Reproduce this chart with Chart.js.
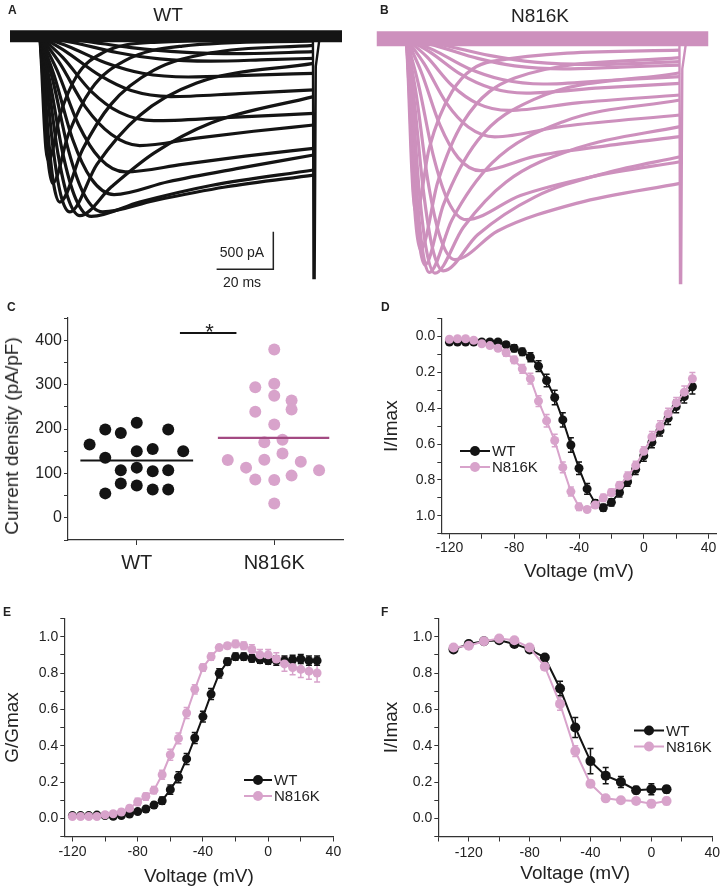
<!DOCTYPE html>
<html>
<head>
<meta charset="utf-8">
<script src="https://cdn.jsdelivr.net/npm/chart.js@4.4.1/dist/chart.umd.min.js"></script>
<style>
  body { margin: 0; background: #fff; width: 723px; height: 889px; position: relative; overflow: hidden;
         font-family: Arial, "Liberation Sans", Helvetica, sans-serif; color: #222; }
  canvas { position: absolute; }
  .t { position: absolute; white-space: nowrap; transform: translate(-50%, -50%); }
  .lt { position: absolute; font-weight: bold; font-size: 12px; }
</style>
</head>
<body>
<canvas id="panelA" width="360" height="290" style="left:0;top:0"></canvas>
<canvas id="panelB" width="363" height="290" style="left:360px;top:0"></canvas>
<canvas id="panelC" width="360" height="310" style="left:0;top:290px"></canvas>
<canvas id="panelD" width="363" height="310" style="left:360px;top:290px"></canvas>
<canvas id="panelE" width="360" height="289" style="left:0;top:600px"></canvas>
<canvas id="panelF" width="363" height="289" style="left:360px;top:600px"></canvas>

<div class="lt" style="left:8px;top:3px">A</div>
<div class="lt" style="left:380px;top:3px">B</div>
<div class="lt" style="left:7px;top:300px">C</div>
<div class="lt" style="left:381px;top:300px">D</div>
<div class="lt" style="left:3px;top:605px">E</div>
<div class="lt" style="left:381px;top:605px">F</div>
<div class="t" style="left:168px;top:15px;font-size:19px">WT</div>
<div class="t" style="left:540px;top:16px;font-size:19px">N816K</div>
<div class="t" style="left:242px;top:252px;font-size:14px">500 pA</div>
<div class="t" style="left:242px;top:282px;font-size:14px">20 ms</div>
<div class="t" style="left:12px;top:436px;font-size:19px;transform:translate(-50%,-50%) rotate(-90deg)">Current density (pA/pF)</div>

<script>
// ---- A / B: current sweeps, [time ms, current pA]
const wtSweeps = [
    [[0,0],[15,-60],[32,-150],[50,-210],[70,-230],[96,-204]],
    [[0,0],[12,-85],[27,-215],[42,-300],[60,-330],[80,-310],[96,-292]],
    [[0,0],[10,-135],[23,-350],[36,-490],[52,-540],[75,-515],[96,-491]],
    [[0,0],[9,-200],[21,-520],[32,-720],[46,-800],[70,-760],[96,-712]],
    [[0,0],[8,-280],[18,-730],[28,-1010],[40,-1120],[65,-1080],[96,-1022]],
    [[0,0],[7,-360],[16,-940],[25,-1300],[35,-1450],[55,-1350],[75,-1260],[96,-1177]],
    [[0,0],[6,-450],[13.5,-1170],[21,-1620],[30,-1800],[50,-1700],[72,-1590],[96,-1487]],
    [[0,0],[5,-520],[11.5,-1370],[18,-1890],[26,-2100],[45,-1930],[70,-1750],[96,-1575]],
    [[0,0],[4.5,-580],[10,-1510],[15.5,-2100],[22,-2330],[40,-2180],[65,-2000],[96,-1841]],
    [[0,0],[3.5,-600],[8,-1550],[12.5,-2150],[18,-2390],[35,-2200],[60,-1980],[96,-1774]],
    [[0,0],[2.8,-600],[6.3,-1550],[9.8,-2140],[14,-2380],[25,-2000],[40,-1550],[60,-1150],[96,-801]],
    [[0,0],[2.1,-580],[4.7,-1510],[7.3,-2100],[10.5,-2330],[20,-1700],[35,-1050],[55,-620],[96,-359]],
    [[0,0],[1.4,-550],[3.2,-1430],[4.9,-1980],[7,-2200],[15,-1500],[25,-900],[40,-450],[60,-220],[96,-120]],
    [[0,0],[0.9,-490],[2,-1270],[3.2,-1750],[4.5,-1950],[10,-1300],[18,-700],[30,-320],[50,-130],[96,-60]],
    [[0,0],[0.6,-410],[1.4,-1070],[2.1,-1490],[3,-1650],[7,-1050],[13,-520],[22,-220],[40,-80],[96,-40]]
];
const mutSweeps = [
    [[0,0],[13,-85],[29,-220],[45,-310],[65,-340],[96,-304]],
    [[0,0],[11,-100],[25,-260],[38,-360],[55,-400],[75,-375],[96,-348]],
    [[0,0],[9.6,-150],[21.6,-390],[33.6,-540],[48,-600],[72,-550],[96,-503]],
    [[0,0],[8.4,-180],[19,-470],[29.4,-650],[42,-720],[68,-650],[96,-591]],
    [[0,0],[7.2,-240],[16,-620],[25,-860],[36,-950],[60,-850],[96,-746]],
    [[0,0],[6.2,-330],[14,-850],[21.7,-1170],[31,-1300],[55,-1160],[96,-1011]],
    [[0,0],[5.2,-440],[11.7,-1140],[18.2,-1580],[26,-1750],[45,-1560],[70,-1420],[96,-1298]],
    [[0,0],[4.2,-600],[9.5,-1560],[14.7,-2160],[21,-2400],[40,-2080],[65,-1830],[96,-1631]],
    [[0,0],[3.4,-730],[7.6,-1900],[11.9,-2640],[17,-2930],[32,-2550],[60,-2180],[96,-1918]],
    [[0,0],[2.6,-770],[5.9,-2000],[9.1,-2770],[13,-3080],[25,-2600],[45,-2100],[70,-1780],[96,-1565]],
    [[0,0],[2,-780],[4.5,-2020],[7,-2800],[10,-3110],[20,-2500],[35,-1900],[60,-1450],[96,-1165]],
    [[0,0],[1.6,-775],[3.6,-2015],[5.6,-2790],[8,-3100],[16,-2400],[30,-1650],[55,-1100],[96,-812]],
    [[0,0],[1.3,-750],[2.9,-1950],[4.5,-2700],[6.5,-3000],[13,-2200],[25,-1350],[45,-800],[96,-450]],
    [[0,0],[1,-700],[2.2,-1820],[3.5,-2520],[5,-2800],[11,-1900],[20,-1100],[38,-520],[96,-250]],
    [[0,0],[0.7,-575],[1.6,-1500],[2.4,-2070],[3.5,-2300],[8,-1450],[16,-700],[30,-300],[96,-150]]
];
const wtTail = [[95.8,0],[96,-3207],[96.4,-3207],[96.8,-400],[98,-60],[100,0]];
const mutTail = [[95.8,0],[96,-3240],[96.4,-3240],[96.8,-400],[98,-80],[100,0]];
const sweepBaseline = [[-10.5,0],[106,0]];
const scaleBar = [[62,-3092],[81.9,-3092],[81.9,-2593]];

// ---- C: current density (pA/pF), jitter around the group position
const groups = ['WT', 'N816K'];
const wtJitter = [-0.343,-0.229,-0.116,0,0.229,-0.229,0,0.116,0.338,-0.116,0,0.116,0.229,-0.116,0,0.116,0.229,-0.229];
const wtDensity = [165,199,191,214,199,135,150,155,150,107,113,105,107,77,73,64,64,55];
const mutJitter = [0,-0.138,0,0,0.126,0.126,-0.138,0,-0.072,0.06,0.06,-0.338,-0.072,-0.205,0.193,0.326,-0.138,0,0.126,0];
const mutDensity = [379,294,302,275,264,244,239,210,170,176,145,130,131,113,126,107,86,85,95,32];
const wtMean = 129;
const mutMean = 180;
const sigLevel = 416;

// ---- D: normalised I-V
const ivVoltage = [-120,-115,-110,-105,-100,-95,-90,-85,-80,-75,-70,-65,-60,-55,-50,-45,-40,-35,-30,-25,-20,-15,-10,-5,0,5,10,15,20,25,30];
const ivWT = [0.03,0.03,0.03,0.03,0.03,0.03,0.03,0.045,0.065,0.085,0.115,0.165,0.245,0.34,0.465,0.605,0.735,0.85,0.93,0.955,0.925,0.87,0.81,0.74,0.665,0.59,0.525,0.455,0.39,0.335,0.28];
const ivWTErr = [0.01,0.01,0.01,0.01,0.01,0.01,0.01,0.015,0.02,0.02,0.025,0.03,0.035,0.04,0.04,0.04,0.035,0.03,0.02,0.02,0.02,0.025,0.025,0.03,0.03,0.03,0.03,0.035,0.035,0.035,0.04];
const ivMut = [0.015,0.012,0.012,0.02,0.04,0.05,0.065,0.09,0.13,0.18,0.235,0.36,0.47,0.58,0.73,0.865,0.95,0.965,0.94,0.9,0.87,0.83,0.78,0.72,0.64,0.56,0.5,0.43,0.37,0.31,0.235];
const ivMutErr = [0.01,0.01,0.01,0.01,0.01,0.01,0.015,0.02,0.02,0.025,0.03,0.03,0.035,0.035,0.03,0.025,0.02,0.015,0.015,0.02,0.02,0.02,0.025,0.025,0.025,0.03,0.03,0.03,0.03,0.035,0.035];

// ---- E: activation G/Gmax
const actVoltage = ivVoltage;
const actWT = [0.015,0.015,0.015,0.018,0.015,0.011,0.015,0.024,0.037,0.051,0.073,0.097,0.158,0.226,0.327,0.442,0.56,0.684,0.798,0.862,0.89,0.89,0.88,0.873,0.868,0.868,0.868,0.873,0.877,0.868,0.868];
const actWTErr = [0.01,0.01,0.01,0.01,0.01,0.01,0.01,0.01,0.01,0.015,0.015,0.02,0.025,0.03,0.03,0.03,0.03,0.03,0.025,0.02,0.02,0.02,0.02,0.02,0.02,0.025,0.025,0.025,0.025,0.025,0.025];
const actMut = [0.01,0.01,0.01,0.01,0.02,0.025,0.035,0.055,0.09,0.12,0.155,0.24,0.35,0.44,0.58,0.71,0.83,0.89,0.94,0.95,0.96,0.95,0.93,0.9,0.9,0.877,0.85,0.83,0.82,0.81,0.8];
const actMutErr = [0.01,0.01,0.01,0.01,0.01,0.01,0.015,0.015,0.02,0.02,0.02,0.025,0.03,0.03,0.03,0.025,0.02,0.02,0.015,0.015,0.02,0.02,0.025,0.03,0.03,0.035,0.04,0.04,0.045,0.045,0.05];

// ---- F: steady-state inactivation
const inactVoltage = [-130,-120,-110,-100,-90,-80,-70,-60,-50,-40,-30,-20,-10,0,10];
const inactWT = [0.93,0.96,0.975,0.98,0.96,0.93,0.885,0.715,0.5,0.315,0.235,0.2,0.155,0.16,0.16];
const inactWTErr = [0.01,0.01,0.01,0.01,0.01,0.01,0.015,0.04,0.055,0.07,0.045,0.03,0.02,0.03,0.02];
const inactMut = [0.94,0.95,0.975,0.99,0.98,0.94,0.835,0.63,0.37,0.19,0.11,0.1,0.095,0.08,0.095];
const inactMutErr = [0.01,0.01,0.01,0.01,0.01,0.01,0.02,0.035,0.03,0.02,0.015,0.01,0.01,0.02,0.02];

const voltTicks = [-140,-120,-100,-80,-60,-40,-20,0,20,40];
const fracTicks = [-0.1,0,0.1,0.2,0.3,0.4,0.5,0.6,0.7,0.8,0.9,1,1.1];
const densityTicks = [-50,0,50,100,150,200,250,300,350,400,450];

const BLACK = '#141414';
const TRACE_PINK = '#cd90bd';
const DOT_PINK = '#d8a3cb';
const MEAN_PURPLE = '#a34a82';
const AXIS = '#333';

Chart.defaults.font.family = 'Arial, "Liberation Sans", Helvetica, sans-serif';
Chart.defaults.color = '#222';
Chart.defaults.animation = false;
Chart.defaults.plugins.legend.display = false;
Chart.defaults.plugins.tooltip.enabled = false;

const toXY = pairs => pairs.map(p => ({ x: p[0], y: p[1] }));
const zipXY = (xs, ys) => xs.map((x, i) => ({ x: x, y: ys[i] }));

function renderSweeps(id, sweeps, tail, color, bandWidth, pad, extra = []) {
    const sets = [{ data: toXY(sweepBaseline), borderColor: color, borderWidth: bandWidth, tension: 0 }];
    sweeps.forEach(s => sets.push({ data: toXY(s), borderColor: color, borderWidth: 3.2, cubicInterpolationMode: 'monotone' }));
    sets.push({ data: toXY(tail), borderColor: color, borderWidth: 2.4, tension: 0 });
    extra.forEach(e => sets.push(e));
    new Chart(document.getElementById(id), {
        type: 'line',
        data: { datasets: sets },
        options: {
            responsive: false,
            layout: { padding: pad },
            elements: { point: { radius: 0 }, line: { borderCapStyle: 'butt' } },
            scales: {
                x: { type: 'linear', display: false, min: -10.5, max: 106 },
                y: { display: false, min: -3300, max: 150 }
            }
        }
    });
}

renderSweeps('panelA', wtSweeps, wtTail, BLACK, 12, { left: 10, right: 18, top: 25, bottom: 5 },
    [{ data: toXY(scaleBar), borderColor: '#222', borderWidth: 1.5, tension: 0 }]);
renderSweeps('panelB', mutSweeps, mutTail, TRACE_PINK, 15, { left: 16.5, right: 14.5, top: 27.5, bottom: 2.5 });

// error bars drawn beneath the markers
const errorBars = {
    id: 'errorBars',
    beforeDatasetsDraw(chart) {
        const { ctx, scales: { x, y } } = chart;
        chart.data.datasets.forEach(ds => {
            if (!ds.errors) return;
            ctx.save();
            ctx.strokeStyle = ds.borderColor;
            ctx.lineWidth = 1.5;
            ds.data.forEach((p, j) => {
                const e = ds.errors[j];
                const px = x.getPixelForValue(p.x);
                const y1 = y.getPixelForValue(p.y - e), y2 = y.getPixelForValue(p.y + e);
                ctx.beginPath();
                ctx.moveTo(px, y1); ctx.lineTo(px, y2);
                ctx.moveTo(px - 3, y1); ctx.lineTo(px + 3, y1);
                ctx.moveTo(px - 3, y2); ctx.lineTo(px + 3, y2);
                ctx.stroke();
            });
            ctx.restore();
        });
    }
};

function makeLegend(cfg) {
    return {
        id: 'miniLegend',
        afterDraw(chart) {
            const ctx = chart.ctx;
            ctx.save();
            cfg.items.forEach((it, k) => {
                const y = cfg.y + k * cfg.gap;
                ctx.strokeStyle = it.color;
                ctx.lineWidth = 2;
                ctx.beginPath(); ctx.moveTo(cfg.x, y); ctx.lineTo(cfg.x + cfg.len, y); ctx.stroke();
                ctx.fillStyle = it.color;
                ctx.beginPath(); ctx.arc(cfg.x + cfg.len / 2, y, 5, 0, Math.PI * 2); ctx.fill();
                ctx.fillStyle = '#222';
                ctx.font = '15px Arial, "Liberation Sans", sans-serif';
                ctx.textBaseline = 'middle';
                ctx.fillText(it.label, cfg.x + cfg.len + 2, y + 1);
            });
            ctx.restore();
        }
    };
}

function curveScales(c) {
    return {
        x: {
            type: 'linear', min: c.xMin, max: c.xMax,
            afterBuildTicks: s => { s.ticks = voltTicks.filter(v => v >= c.xMin && v <= c.xMax).map(v => ({ value: v })); },
            afterFit: s => { s.height = c.xH; },
            ticks: { autoSkip: false, maxRotation: 0, padding: c.xPad, font: { size: 14 }, color: '#222',
                     callback: v => (v % 40 === 0 ? String(v) : '') },
            grid: { drawOnChartArea: false, tickLength: 5, color: AXIS },
            border: { color: AXIS, width: 1.2 },
            title: { display: true, text: 'Voltage (mV)', font: { size: 19 }, color: '#222', padding: { top: 0, bottom: c.xTitlePad } }
        },
        y: {
            type: 'linear', min: -0.1, max: 1.1, reverse: !!c.reverse,
            afterBuildTicks: s => { s.ticks = fracTicks.map(v => ({ value: v })); },
            afterFit: s => { s.width = c.yW; },
            ticks: { autoSkip: false, padding: 2, font: { size: 14 }, color: '#222',
                     callback: v => { const r = Math.round(v * 10); return (r >= 0 && r <= 10 && r % 2 === 0) ? (r / 10).toFixed(1) : ''; } },
            grid: { drawOnChartArea: false, tickLength: 4, color: AXIS },
            border: { color: AXIS, width: 1.2 },
            title: { display: true, text: c.yTitle, font: { size: 19 }, color: '#222', padding: { top: c.yTitlePad, bottom: 0 } }
        }
    };
}

function renderCurves(id, volts, wt, wtErr, mut, mutErr, c, legend) {
    new Chart(document.getElementById(id), {
        type: 'line',
        data: {
            datasets: [
                { data: zipXY(volts, mut), errors: mutErr, borderColor: DOT_PINK, backgroundColor: DOT_PINK, borderWidth: 2,
                  pointRadius: c.r, pointBorderWidth: 0, tension: 0, order: 0 },
                { data: zipXY(volts, wt), errors: wtErr, borderColor: BLACK, backgroundColor: BLACK, borderWidth: 2,
                  pointRadius: c.r, pointBorderWidth: 0, tension: 0, order: 1 }
            ]
        },
        options: {
            responsive: false,
            layout: { padding: c.pad },
            scales: curveScales(c)
        },
        plugins: [errorBars, makeLegend(legend)]
    });
}

const legendItems = [{ label: 'WT', color: BLACK }, { label: 'N816K', color: DOT_PINK }];

renderCurves('panelD', ivVoltage, ivWT, ivWTErr, ivMut, ivMutErr,
    { xMin: -125, xMax: 45, xH: 66.3, yW: 81.3, xPad: 1, xTitlePad: 16.9, yTitlePad: 20.3, yTitle: 'I/Imax', reverse: true, r: 4.5,
      pad: { top: 28.7, right: 6.3, left: 0, bottom: 0 } },
    { x: 100, y: 161, gap: 16, len: 30, items: legendItems });

renderCurves('panelE', actVoltage, actWT, actWTErr, actMut, actMutErr,
    { xMin: -125, xMax: 40, xH: 52.5, yW: 64.3, xPad: 2, xTitlePad: 0.9, yTitlePad: 1.6, yTitle: 'G/Gmax', r: 4.5,
      pad: { top: 18.5, right: 26.6, left: 0, bottom: 0 } },
    { x: 244, y: 180, gap: 16, len: 28, items: legendItems });

renderCurves('panelF', inactVoltage, inactWT, inactWTErr, inactMut, inactMutErr,
    { xMin: -140, xMax: 40, xH: 52.5, yW: 78.3, xPad: 3, xTitlePad: 3.6, yTitlePad: 20.3, yTitle: 'I/Imax', r: 5,
      pad: { top: 18.5, right: 8.7, left: 0, bottom: 0 } },
    { x: 274, y: 130.5, gap: 16, len: 30, items: legendItems });

// ---- C
const asterisk = {
    id: 'asterisk',
    afterDatasetsDraw(chart) {
        const { ctx, scales: { x, y } } = chart;
        ctx.save();
        ctx.fillStyle = '#222';
        ctx.font = '22px Arial, "Liberation Sans", sans-serif';
        ctx.textAlign = 'center';
        ctx.textBaseline = 'middle';
        ctx.fillText('*', x.getPixelForValue(0.53), y.getPixelForValue(sigLevel));
        ctx.restore();
    }
};

new Chart(document.getElementById('panelC'), {
    type: 'scatter',
    data: {
        datasets: [
            { data: wtJitter.map((j, i) => ({ x: 0 + j, y: wtDensity[i] })), backgroundColor: BLACK, pointRadius: 6, pointBorderWidth: 0, order: 2 },
            { data: mutJitter.map((j, i) => ({ x: 1 + j, y: mutDensity[i] })), backgroundColor: DOT_PINK, pointRadius: 6, pointBorderWidth: 0, order: 2 },
            { data: [{ x: -0.41, y: wtMean }, { x: 0.41, y: wtMean }], showLine: true, borderColor: BLACK, borderWidth: 2, pointRadius: 0, order: 0 },
            { data: [{ x: 0.59, y: mutMean }, { x: 1.4, y: mutMean }], showLine: true, borderColor: MEAN_PURPLE, borderWidth: 2.2, pointRadius: 0, order: 0 },
            { data: [{ x: 0.314, y: sigLevel }, { x: 0.725, y: sigLevel }], showLine: true, borderColor: BLACK, borderWidth: 2, pointRadius: 0, order: 0 }
        ]
    },
    options: {
        responsive: false,
        layout: { padding: { top: 28, right: 17, left: 0, bottom: 0 } },
        scales: {
            x: {
                type: 'linear', min: -0.5, max: 1.5,
                afterBuildTicks: s => { s.ticks = groups.map((g, i) => ({ value: i })); },
                afterFit: s => { s.height = 60; },
                ticks: { autoSkip: false, maxRotation: 0, padding: 6, font: { size: 20 }, color: '#222', callback: v => groups[v] },
                grid: { drawOnChartArea: false, tickLength: 5, color: AXIS },
                border: { color: AXIS, width: 1.2 }
            },
            y: {
                type: 'linear', min: -50, max: 450,
                afterBuildTicks: s => { s.ticks = densityTicks.map(v => ({ value: v })); },
                afterFit: s => { s.width = 68; },
                ticks: { autoSkip: false, padding: 2, font: { size: 16 }, color: '#222',
                         callback: v => (v >= 0 && v <= 400 && v % 100 === 0 ? String(v) : '') },
                grid: { drawOnChartArea: false, tickLength: 4, color: AXIS },
                border: { color: AXIS, width: 1.2 }
            }
        }
    },
    plugins: [asterisk]
});
</script>
</body>
</html>
